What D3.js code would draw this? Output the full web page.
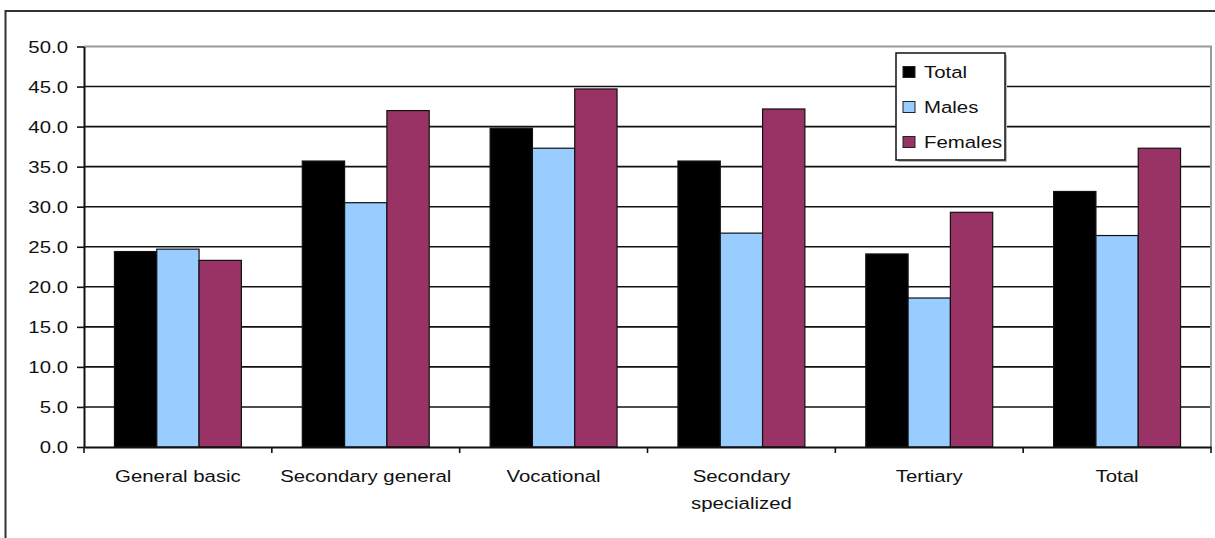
<!DOCTYPE html>
<html>
<head>
<meta charset="utf-8">
<script src="https://cdn.jsdelivr.net/npm/d3@7"></script>
<style>
  body { margin: 0; background: #fff; }
  svg text { font-family: "Liberation Sans", Arial, sans-serif; fill: #111; }
</style>
</head>
<body>
<div id="chart"></div>
<script>
// data
const categories = ['General basic', 'Secondary general', 'Vocational', 'Secondary specialized', 'Tertiary', 'Total'];
const tickLabels = [['General basic'], ['Secondary general'], ['Vocational'], ['Secondary', 'specialized'], ['Tertiary'], ['Total']];
const seriesNames = ['Total', 'Males', 'Females'];
const totalValues = [24.4, 35.7, 39.8, 35.7, 24.1, 31.9];
const malesValues = [24.7, 30.5, 37.3, 26.7, 18.6, 26.4];
const femalesValues = [23.3, 42.0, 44.7, 42.2, 29.3, 37.3];
const yTicks = [0, 5, 10, 15, 20, 25, 30, 35, 40, 45, 50];

const seriesValues = [totalValues, malesValues, femalesValues];
const colors = ['#000000', '#99ccff', '#993366'];
const stretch = 1.2; // text in the picture is drawn wide

const W = 1215, H = 538;
const margin = {top: 46.5, right: 4, bottom: 91, left: 84};

const svg = d3.select('#chart').append('svg')
    .attr('width', W)
    .attr('height', H);

// outer frame of the chart object
svg.append('rect')
    .attr('x', 5.5).attr('y', 11)
    .attr('width', 1230).attr('height', 560)
    .attr('fill', 'none')
    .attr('stroke', '#333')
    .attr('stroke-width', 2);

const x0 = d3.scaleBand()
    .domain(categories)
    .range([margin.left, W - margin.right])
    .padding(0);

const x1 = d3.scaleBand()
    .domain(seriesNames)
    .range([0, x0.bandwidth()])
    .paddingInner(0)
    .paddingOuter(0.72);

const y = d3.scaleLinear()
    .domain([0, 50])
    .range([H - margin.bottom, margin.top]);

// gridlines
svg.append('g')
    .selectAll('line')
    .data(yTicks.filter(d => d > 0 && d < 50))
    .join('line')
    .attr('x1', margin.left)
    .attr('x2', W - margin.right)
    .attr('y1', d => y(d))
    .attr('y2', d => y(d))
    .attr('stroke', '#111')
    .attr('stroke-width', 1.6);

// plot area border (top and right in grey)
svg.append('path')
    .attr('d', `M${margin.left},${y(50)}H${W - margin.right}V${y(0)}`)
    .attr('fill', 'none')
    .attr('stroke', '#999')
    .attr('stroke-width', 2);

// bars
const groups = svg.append('g')
    .selectAll('g')
    .data(categories)
    .join('g')
    .attr('transform', d => `translate(${x0(d)},0)`);

groups.selectAll('rect')
    .data((d, i) => seriesNames.map((s, j) => ({series: s, value: seriesValues[j][i], color: colors[j]})))
    .join('rect')
    .attr('x', d => x1(d.series))
    .attr('y', d => y(d.value))
    .attr('width', x1.bandwidth())
    .attr('height', d => y(0) - y(d.value))
    .attr('fill', d => d.color)
    .attr('stroke', '#111')
    .attr('stroke-width', 1.2);

// y axis
const yAxis = svg.append('g')
    .attr('transform', `translate(${margin.left},0)`)
    .call(d3.axisLeft(y).tickValues(yTicks).tickFormat(d3.format('.1f')).tickSize(7).tickSizeOuter(0));

yAxis.select('.domain').attr('stroke', '#111').attr('stroke-width', 2);
yAxis.selectAll('.tick line').attr('stroke', '#111').attr('stroke-width', 1.6);
yAxis.selectAll('.tick text')
    .attr('x', -16 / stretch)
    .attr('dy', '0.35em')
    .attr('transform', `scale(${stretch},1)`)
    .style('font-size', '17px')
    .attr('fill', '#111');

// x axis, ticks at category boundaries
const boundaries = d3.range(categories.length + 1).map(i => margin.left + i * x0.bandwidth());
const xAxis = svg.append('g')
    .attr('transform', `translate(0,${y(0)})`)
    .call(d3.axisBottom(x0).tickSize(0).tickSizeOuter(0).tickFormat(''));

xAxis.select('.domain').attr('stroke', '#111').attr('stroke-width', 2);

xAxis.selectAll('.boundary')
    .data(boundaries)
    .join('line')
    .attr('class', 'boundary')
    .attr('x1', d => d).attr('x2', d => d)
    .attr('y1', 0).attr('y2', 6)
    .attr('stroke', '#111')
    .attr('stroke-width', 1.6);

xAxis.selectAll('.tick text').each(function(d, i) {
    const t = d3.select(this);
    t.text(null)
        .attr('y', 0)
        .attr('dy', null)
        .attr('transform', `scale(${stretch},1)`)
        .style('font-size', '17px')
        .attr('fill', '#111');
    tickLabels[i].forEach((line, k) => {
        t.append('tspan')
            .attr('x', 0)
            .attr('y', 35 + k * 27)
            .text(line);
    });
});

// legend
const legend = svg.append('g').attr('transform', 'translate(896,53)');
legend.append('rect')
    .attr('x', 2).attr('y', 2)
    .attr('width', 109).attr('height', 107)
    .attr('fill', '#bbb');
legend.append('rect')
    .attr('x', 0).attr('y', 0)
    .attr('width', 109).attr('height', 107)
    .attr('fill', '#fff')
    .attr('stroke', '#111')
    .attr('stroke-width', 1.5);

const items = legend.selectAll('.item')
    .data(seriesNames)
    .join('g')
    .attr('class', 'item')
    .attr('transform', (d, i) => `translate(0,${19 + i * 35})`);

items.append('rect')
    .attr('x', 7).attr('y', -5.5)
    .attr('width', 12).attr('height', 11)
    .attr('fill', (d, i) => colors[i])
    .attr('stroke', '#222')
    .attr('stroke-width', 1);

items.append('text')
    .attr('x', 28 / stretch)
    .attr('dy', '0.35em')
    .attr('transform', `scale(${stretch},1)`)
    .style('font-size', '17px')
    .text(d => d);
</script>
</body>
</html>
